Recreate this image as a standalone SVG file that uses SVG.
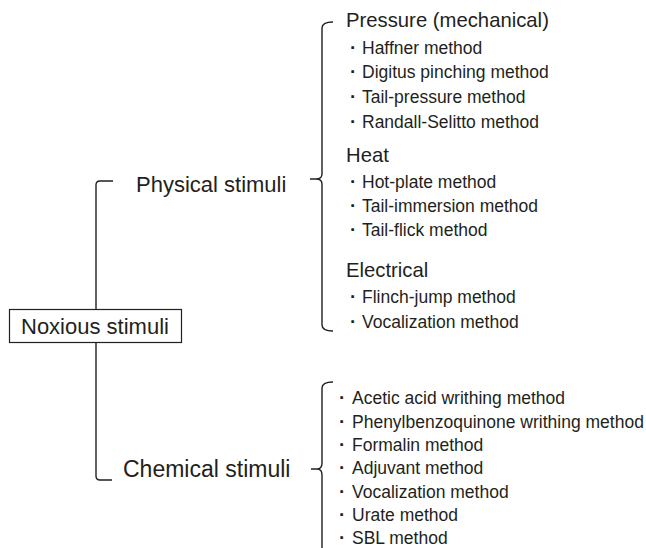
<svg xmlns="http://www.w3.org/2000/svg" width="646" height="548" viewBox="0 0 646 548">
<style>
text{font-family:"Liberation Sans",Arial,sans-serif;fill:#231f20}
.big{font-size:22px}
.chem{font-size:23px}
.head{font-size:20.3px}
.item{font-size:17.5px}
.b{font-weight:bold;font-size:19px}
.ln{fill:none;stroke:#231f20;stroke-width:1.4}
</style>
<rect width="646" height="548" fill="#fff"/>
<g id="connectors">
<path class="ln" d="M113,181 L100,181 Q96,181 96,185 L96,309"/>
<path class="ln" d="M96,343 L96,476 Q96,480 100,480 L112,480"/>
<path class="ln" d="M333,22 Q322,22 322,28 L322,174 Q322,179 316,179 L310,179 M316,179 Q322,179 322,184 L322,325 Q322,331 333,331"/>
<path class="ln" d="M333,382 Q322,382 322,388 L322,463 Q322,469 317,469 L311,469 M317,469 Q322,469 322,475 L322,548"/>
</g>
<g id="noxious">
<rect x="9.5" y="309.5" width="172" height="33" fill="#fff" stroke="#231f20" stroke-width="1.2"/>
<text class="big" x="21" y="334">Noxious stimuli</text>
</g>
<g id="physical">
<text class="big" x="136" y="192">Physical stimuli</text>
</g>
<g id="chemical">
<text class="chem" x="123" y="477">Chemical stimuli</text>
</g>
<g id="pressure">
<text class="head" x="346" y="27">Pressure (mechanical)</text>
<text class="item" y="53.5"><tspan class="b" x="350">·</tspan><tspan x="362">Haffner method</tspan></text>
<text class="item" y="78"><tspan class="b" x="350">·</tspan><tspan x="362">Digitus pinching method</tspan></text>
<text class="item" y="102.5"><tspan class="b" x="350">·</tspan><tspan x="362">Tail-pressure method</tspan></text>
<text class="item" y="128"><tspan class="b" x="350">·</tspan><tspan x="362">Randall-Selitto method</tspan></text>
</g>
<g id="heat">
<text class="head" x="346" y="162">Heat</text>
<text class="item" y="188"><tspan class="b" x="350">·</tspan><tspan x="362">Hot-plate method</tspan></text>
<text class="item" y="212"><tspan class="b" x="350">·</tspan><tspan x="362">Tail-immersion method</tspan></text>
<text class="item" y="236"><tspan class="b" x="350">·</tspan><tspan x="362">Tail-flick method</tspan></text>
</g>
<g id="electrical">
<text class="head" x="346" y="277">Electrical</text>
<text class="item" y="303"><tspan class="b" x="350">·</tspan><tspan x="362">Flinch-jump method</tspan></text>
<text class="item" y="327.5"><tspan class="b" x="350">·</tspan><tspan x="362">Vocalization method</tspan></text>
</g>
<g id="chemical-methods">
<text class="item" y="404"><tspan class="b" x="339">·</tspan><tspan x="352">Acetic acid writhing method</tspan></text>
<text class="item" y="427.5"><tspan class="b" x="339">·</tspan><tspan x="352">Phenylbenzoquinone writhing method</tspan></text>
<text class="item" y="451"><tspan class="b" x="339">·</tspan><tspan x="352">Formalin method</tspan></text>
<text class="item" y="474"><tspan class="b" x="339">·</tspan><tspan x="352">Adjuvant method</tspan></text>
<text class="item" y="497.5"><tspan class="b" x="339">·</tspan><tspan x="352">Vocalization method</tspan></text>
<text class="item" y="521"><tspan class="b" x="339">·</tspan><tspan x="352">Urate method</tspan></text>
<text class="item" y="544"><tspan class="b" x="339">·</tspan><tspan x="352">SBL method</tspan></text>
</g>
</svg>
